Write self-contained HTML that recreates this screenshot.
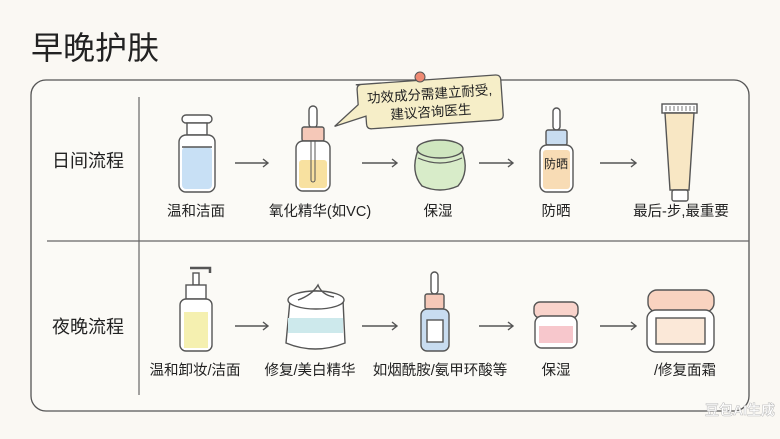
<!DOCTYPE html>
<html><head><meta charset="utf-8"><style>
body{margin:0;background:#faf8f3;}
svg{display:block}
text{font-family:"Liberation Sans","Noto Sans CJK SC",sans-serif;fill:#222}
</style></head><body>
<svg width="780" height="439" viewBox="0 0 780 439" xmlns="http://www.w3.org/2000/svg">
<rect width="780" height="439" fill="#faf8f3"/>
<text x="31" y="59" font-size="32">早晚护肤</text>
<rect x="31" y="80" width="718" height="331" rx="15" fill="#fbfaf6" stroke="#555" stroke-width="1.3"/>
<line x1="139" y1="97" x2="139" y2="395" stroke="#666" stroke-width="1.2"/>
<line x1="47" y1="241" x2="749" y2="241" stroke="#666" stroke-width="1.2"/>
<text x="88" y="167" font-size="18" text-anchor="middle">日间流程</text>
<text x="88" y="333" font-size="18" text-anchor="middle">夜晚流程</text>
<g stroke="#555" stroke-width="1.4" fill="none">
<path d="M235 163H268M263 159L268 163L263 167"/>
<path d="M362 163H397M392 159L397 163L392 167"/>
<path d="M479 163H513M508 159L513 163L508 167"/>
<path d="M600 163H636M631 159L636 163L631 167"/>
<path d="M235 326H268M263 322L268 326L263 330"/>
<path d="M362 326H397M392 322L397 326L392 330"/>
<path d="M479 326H513M508 322L513 326L508 330"/>
<path d="M600 326H636M631 322L636 326L631 330"/>
</g>
<g stroke="#555" stroke-width="1.4">
<rect x="182" y="115" width="30" height="8" rx="4" fill="#fff"/>
<rect x="187" y="123" width="20" height="12" fill="#fff"/>
<rect x="179" y="135" width="36" height="57" rx="7" fill="#fff"/>
<rect x="182" y="147" width="30" height="42" rx="4" fill="#c8e0f5" stroke="none"/>
<line x1="182" y1="147" x2="212" y2="147"/>
<rect x="309" y="106" width="8" height="22" rx="4" fill="#fff"/>
<rect x="302" y="127" width="22" height="14" rx="2" fill="#f5c8b8"/>
<rect x="296" y="141" width="34" height="50" rx="7" fill="#fff"/>
<rect x="299" y="160" width="28" height="28" rx="3" fill="#f8e1a0" stroke="none"/>
<path d="M311 141V180a2 2 0 0 0 4 0V141" fill="none" stroke-width="1"/>
<path d="M418 150Q410 172 422 186Q440 194 458 186Q470 172 462 150Z" fill="#d8ecc9"/>
<ellipse cx="440" cy="149" rx="23" ry="9" fill="#cfe6bf"/>
<path d="M418 158Q440 168 462 158" fill="none" stroke-width="1.2"/>
<rect x="553" y="108" width="7" height="22" rx="3.5" fill="#fff"/>
<rect x="546" y="130" width="21" height="15" rx="2" fill="#c8dcf0"/>
<rect x="540" y="145" width="33" height="47" rx="7" fill="#fff"/>
<rect x="543" y="150" width="27" height="39" rx="3" fill="#f8dcb5" stroke="none"/>
<rect x="662" y="104" width="35" height="9" fill="#fff"/>
<path d="M666 106V111M670 106V111M674 106V111M678 106V111M682 106V111M686 106V111M690 106V111M694 106V111" stroke-width="0.8"/>
<path d="M665 113H694L689 190H670Z" fill="#f8e7c4"/>
<rect x="672" y="190" width="16" height="11" rx="2" fill="#fff"/>
<path d="M190 268H210V273" fill="none" stroke-width="2.5"/>
<rect x="193" y="273" width="6" height="12" fill="#fff"/>
<rect x="186" y="285" width="20" height="14" fill="#fff"/>
<rect x="180" y="299" width="32" height="52" rx="6" fill="#fff"/>
<rect x="184" y="312" width="24" height="36" fill="#f5f0b0" stroke="none"/>
<path d="M290 300Q315 282 343 300L345 343Q315 355 286 343Z" fill="#fff"/>
<rect x="288" y="318" width="55" height="15" fill="#cde9ec" stroke="none"/>
<ellipse cx="316" cy="300" rx="28" ry="9" fill="#fff"/>
<path d="M298 300Q312 295 318 285Q322 295 334 297" fill="none"/>
<rect x="431" y="272" width="7" height="22" rx="3.5" fill="#fff"/>
<rect x="425" y="294" width="19" height="15" rx="2" fill="#f5c8b8"/>
<rect x="421" y="309" width="28" height="42" rx="6" fill="#c8dcf0"/>
<rect x="427" y="320" width="16" height="22" fill="#fff"/>
<rect x="534" y="302" width="44" height="16" rx="6" fill="#f9d3cb"/>
<rect x="535" y="316" width="42" height="32" rx="7" fill="#fff"/>
<rect x="539" y="326" width="34" height="17" fill="#f7c7cc" stroke="none"/>
<rect x="648" y="290" width="66" height="22" rx="9" fill="#f9d3c0"/>
<rect x="647" y="310" width="67" height="42" rx="9" fill="#fff"/>
<rect x="656" y="318" width="49" height="26" fill="#fbe8d8"/>
</g>
<g font-size="14.5" text-anchor="middle">
<text x="196" y="216">温和洁面</text>
<text x="320" y="216">氧化精华(如VC)</text>
<text x="438" y="216">保湿</text>
<text x="556" y="216">防晒</text>
<text x="681" y="216">最后-步,最重要</text>
<text x="195" y="375">温和卸妆/洁面</text>
<text x="310" y="375">修复/美白精华</text>
<text x="440" y="375">如烟酰胺/氨甲环酸等</text>
<text x="556" y="375">保湿</text>
<text x="685" y="375">/修复面霜</text>
</g>
<text x="556" y="168" font-size="12" text-anchor="middle">防晒</text>
<g transform="rotate(-4 425 100)">
<path d="M357 80H497Q502 80 502 85V120Q502 125 497 125H370Q365 125 365 120V112L333 120L358 100V85Q358 80 363 80Z" fill="#f6eec8" stroke="#555" stroke-width="1.3"/>
<text x="430" y="99" font-size="13.5" text-anchor="middle">功效成分需建立耐受,</text>
<text x="430" y="117" font-size="13.5" text-anchor="middle">建议咨询医生</text>
</g>
<circle cx="420" cy="77" r="5" fill="#ef8a73" stroke="#555" stroke-width="1"/>
<text x="705" y="415" font-size="14" style="fill:#fff;stroke:#bbb;stroke-width:0.5" font-weight="bold">豆包AI生成</text>
</svg>
</body></html>
